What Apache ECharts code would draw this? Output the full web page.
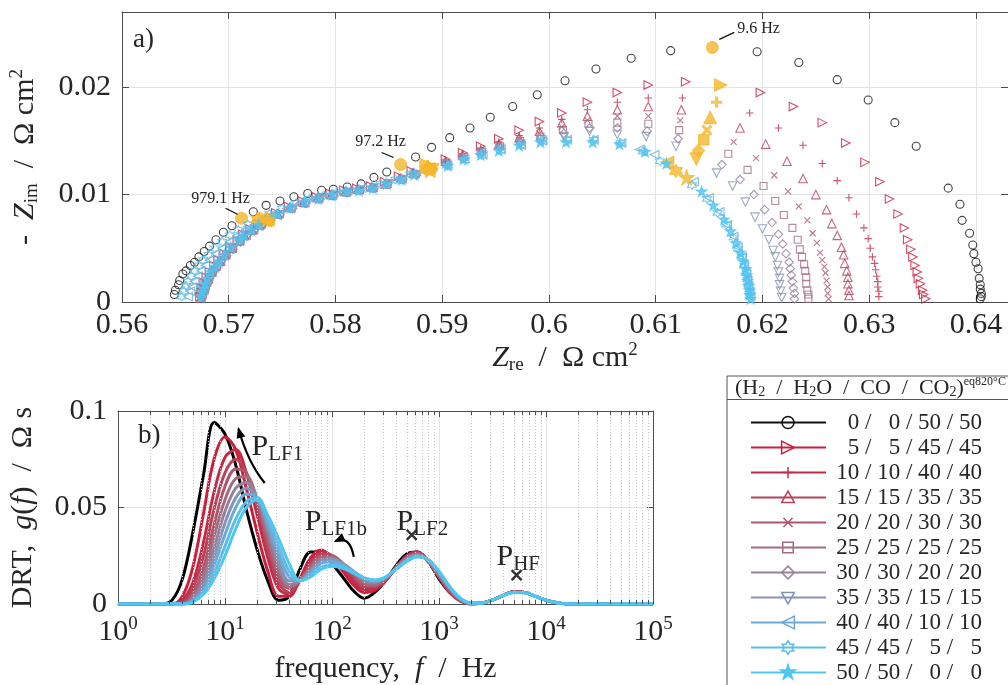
<!DOCTYPE html>
<html>
<head>
<meta charset="utf-8">
<script src="https://cdn.jsdelivr.net/npm/echarts/dist/echarts.min.js"></script>
<style>
  html, body { margin: 0; padding: 0; background: #ffffff; }
  #chart { width: 1008px; height: 685px; }
</style>
</head>
<body>
<div id="chart"></div>
<script>
// ---------- gas compositions (H2 / H2O / CO / CO2, %) ----------
const MIX_H2  = [0, 5, 10, 15, 20, 25, 30, 35, 40, 45, 50];
const MIX_H2O = [0, 5, 10, 15, 20, 25, 30, 35, 40, 45, 50];
const MIX_CO  = [50, 45, 40, 35, 30, 25, 20, 15, 10, 5, 0];
const MIX_CO2 = [50, 45, 40, 35, 30, 25, 20, 15, 10, 5, 0];

// ---------- impedance spectra: [Z_re, -Z_im] in Ohm cm2, 12 points per decade from ~14 kHz downwards ----------
const nyq00 = [[.5649,.0007],[.5650,.0011],[.5653,.0016],[.5654,.0020],[.5657,.0026],[.5660,.0029],[.5664,.0034],[.5668,.0037],[.5672,.0042],[.5677,.0047],[.5682,.0052],[.5688,.0058],[.5695,.0065],[.5703,.0071],[.5712,.0078],[.5723,.0084],[.5735,.0090],[.5748,.0094],[.5761,.0098],[.5774,.0101],[.5787,.0104],[.5798,.0105],[.5811,.0107],[.5824,.0110],[.5836,.0116],[.5848,.0121],[.5861,.0128],[.5875,.0135],[.5890,.0144],[.5907,.0153],[.5926,.0162],[.5945,.0172],[.5966,.0182],[.5989,.0193],[.6015,.0206],[.6044,.0217],[.6077,.0227],[.6114,.0234],[.6153,.0237],[.6195,.0233],[.6234,.0223],[.6270,.0207],[.6299,.0188],[.6324,.0167],[.6344,.0145],[.6374,.0106],[.6385,.0091],[.6387,.0076],[.6394,.0064],[.6397,.0053],[.6398,.0045],[.6400,.0037],[.6402,.0031],[.6403,.0022],[.6404,.0016],[.6404,.0012],[.6405,.0008],[.6405,.0005],[.6404,.0003]];
const nyq05 = [[.5673,.0005],[.5674,.0009],[.5675,.0013],[.5677,.0018],[.5679,.0023],[.5682,.0028],[.5686,.0034],[.5690,.0039],[.5695,.0045],[.5701,.0051],[.5708,.0057],[.5713,.0063],[.5720,.0068],[.5727,.0073],[.5734,.0078],[.5744,.0083],[.5756,.0089],[.5769,.0094],[.5782,.0098],[.5795,.0101],[.5808,.0104],[.5820,.0106],[.5833,.0108],[.5846,.0112],[.5859,.0117],[.5871,.0122],[.5885,.0128],[.5903,.0133],[.5919,.0139],[.5936,.0145],[.5953,.0152],[.5972,.0160],[.5991,.0168],[.6012,.0176],[.6036,.0186],[.6064,.0195],[.6093,.0202],[.6128,.0205],[.6161,.0202],[.6198,.0195],[.6229,.0182],[.6256,.0167],[.6278,.0148],[.6296,.0130],[.6310,.0112],[.6319,.0096],[.6327,.0082],[.6333,.0069],[.6336,.0058],[.6339,.0049],[.6341,.0042],[.6343,.0034],[.6345,.0028],[.6346,.0022],[.6348,.0017],[.6350,.0011],[.6351,.0007],[.6353,.0003]];
const nyq10 = [[.5674,.0005],[.5675,.0009],[.5676,.0013],[.5678,.0018],[.5680,.0023],[.5683,.0028],[.5687,.0033],[.5691,.0039],[.5696,.0045],[.5702,.0051],[.5709,.0057],[.5714,.0062],[.5721,.0067],[.5728,.0072],[.5735,.0077],[.5745,.0083],[.5757,.0088],[.5770,.0093],[.5783,.0097],[.5796,.0100],[.5809,.0103],[.5821,.0105],[.5834,.0107],[.5847,.0111],[.5860,.0116],[.5872,.0121],[.5886,.0127],[.5903,.0132],[.5919,.0138],[.5936,.0143],[.5953,.0149],[.5972,.0155],[.5991,.0162],[.6012,.0170],[.6036,.0179],[.6064,.0186],[.6093,.0190],[.6125,.0190],[.6157,.0186],[.6188,.0176],[.6215,.0162],[.6238,.0146],[.6256,.0129],[.6270,.0113],[.6281,.0097],[.6288,.0082],[.6295,.0069],[.6299,.0059],[.6301,.0050],[.6303,.0042],[.6305,.0036],[.6306,.0030],[.6307,.0024],[.6308,.0019],[.6308,.0014],[.6309,.0010],[.6309,.0005]];
const nyq15 = [[.5674,.0004],[.5675,.0008],[.5677,.0013],[.5678,.0017],[.5681,.0022],[.5684,.0028],[.5687,.0033],[.5692,.0038],[.5697,.0044],[.5703,.0050],[.5710,.0057],[.5715,.0062],[.5722,.0067],[.5729,.0072],[.5736,.0077],[.5746,.0082],[.5757,.0088],[.5770,.0093],[.5783,.0097],[.5796,.0100],[.5809,.0103],[.5821,.0105],[.5834,.0107],[.5847,.0110],[.5861,.0115],[.5873,.0120],[.5887,.0126],[.5903,.0131],[.5919,.0137],[.5936,.0141],[.5953,.0147],[.5972,.0153],[.5991,.0159],[.6012,.0167],[.6036,.0173],[.6064,.0179],[.6093,.0182],[.6124,.0179],[.6151,.0172],[.6179,.0162],[.6203,.0147],[.6223,.0131],[.6238,.0115],[.6250,.0100],[.6260,.0086],[.6265,.0073],[.6270,.0062],[.6274,.0051],[.6276,.0044],[.6277,.0036],[.6279,.0029],[.6280,.0023],[.6280,.0017],[.6281,.0011],[.6281,.0006]];
const nyq20 = [[.5675,.0004],[.5676,.0008],[.5677,.0012],[.5679,.0017],[.5681,.0022],[.5684,.0027],[.5688,.0032],[.5692,.0038],[.5697,.0044],[.5703,.0050],[.5710,.0056],[.5716,.0062],[.5723,.0067],[.5730,.0072],[.5737,.0076],[.5747,.0082],[.5758,.0087],[.5771,.0092],[.5784,.0096],[.5797,.0099],[.5810,.0102],[.5822,.0104],[.5835,.0106],[.5848,.0110],[.5862,.0115],[.5874,.0119],[.5888,.0125],[.5903,.0130],[.5919,.0136],[.5936,.0141],[.5953,.0146],[.5972,.0151],[.5991,.0157],[.6012,.0163],[.6036,.0169],[.6064,.0173],[.6093,.0173],[.6123,.0169],[.6148,.0160],[.6173,.0149],[.6194,.0134],[.6211,.0118],[.6224,.0103],[.6234,.0089],[.6242,.0076],[.6247,.0064],[.6251,.0055],[.6254,.0046],[.6256,.0039],[.6258,.0033],[.6259,.0027],[.6260,.0020],[.6261,.0014],[.6261,.0008],[.6262,.0003]];
const nyq25 = [[.5675,.0005],[.5676,.0009],[.5678,.0013],[.5680,.0018],[.5682,.0023],[.5685,.0028],[.5689,.0033],[.5693,.0038],[.5698,.0044],[.5704,.0050],[.5711,.0057],[.5717,.0062],[.5724,.0067],[.5731,.0072],[.5738,.0076],[.5748,.0082],[.5759,.0087],[.5772,.0092],[.5785,.0096],[.5798,.0099],[.5811,.0102],[.5823,.0104],[.5836,.0106],[.5849,.0110],[.5863,.0114],[.5875,.0119],[.5889,.0124],[.5904,.0129],[.5920,.0135],[.5937,.0140],[.5954,.0145],[.5973,.0150],[.5992,.0154],[.6013,.0160],[.6037,.0166],[.6064,.0167],[.6093,.0166],[.6122,.0160],[.6145,.0151],[.6168,.0138],[.6186,.0123],[.6201,.0108],[.6212,.0094],[.6220,.0081],[.6228,.0069],[.6233,.0058],[.6235,.0049],[.6237,.0042],[.6239,.0035],[.6240,.0029],[.6241,.0023],[.6241,.0017],[.6242,.0011],[.6243,.0007],[.6243,.0003]];
const nyq30 = [[.5675,.0004],[.5677,.0008],[.5678,.0012],[.5680,.0017],[.5682,.0022],[.5685,.0027],[.5689,.0032],[.5693,.0038],[.5698,.0043],[.5704,.0049],[.5711,.0056],[.5717,.0062],[.5724,.0067],[.5731,.0071],[.5738,.0076],[.5748,.0081],[.5760,.0087],[.5772,.0092],[.5785,.0096],[.5798,.0099],[.5811,.0102],[.5823,.0104],[.5836,.0106],[.5849,.0110],[.5863,.0114],[.5876,.0118],[.5890,.0123],[.5904,.0129],[.5920,.0134],[.5937,.0139],[.5954,.0144],[.5973,.0149],[.5992,.0152],[.6014,.0157],[.6038,.0162],[.6064,.0162],[.6092,.0159],[.6121,.0152],[.6140,.0141],[.6162,.0128],[.6179,.0114],[.6192,.0100],[.6202,.0086],[.6209,.0074],[.6215,.0063],[.6219,.0054],[.6222,.0045],[.6225,.0037],[.6226,.0031],[.6227,.0025],[.6228,.0019],[.6229,.0013],[.6230,.0008],[.6230,.0003]];
const nyq35 = [[.5676,.0005],[.5677,.0009],[.5679,.0013],[.5680,.0017],[.5683,.0022],[.5686,.0028],[.5690,.0033],[.5694,.0038],[.5699,.0044],[.5705,.0050],[.5712,.0057],[.5718,.0062],[.5725,.0067],[.5732,.0071],[.5739,.0076],[.5749,.0081],[.5760,.0087],[.5773,.0092],[.5786,.0096],[.5799,.0099],[.5811,.0102],[.5823,.0104],[.5836,.0106],[.5850,.0110],[.5863,.0114],[.5876,.0118],[.5891,.0123],[.5904,.0128],[.5920,.0134],[.5937,.0139],[.5954,.0143],[.5973,.0147],[.5993,.0151],[.6014,.0154],[.6038,.0159],[.6064,.0156],[.6091,.0154],[.6119,.0145],[.6138,.0133],[.6157,.0120],[.6172,.0108],[.6184,.0093],[.6193,.0079],[.6200,.0068],[.6206,.0058],[.6210,.0048],[.6212,.0042],[.6214,.0034],[.6215,.0028],[.6216,.0022],[.6216,.0016],[.6217,.0010],[.6218,.0004]];
const nyq40 = [[.5662,.0005],[.5664,.0010],[.5666,.0014],[.5668,.0019],[.5671,.0024],[.5674,.0029],[.5678,.0034],[.5682,.0039],[.5688,.0045],[.5694,.0050],[.5701,.0056],[.5708,.0062],[.5716,.0067],[.5724,.0072],[.5732,.0077],[.5742,.0082],[.5754,.0087],[.5767,.0092],[.5780,.0096],[.5793,.0099],[.5806,.0102],[.5818,.0104],[.5831,.0106],[.5845,.0110],[.5858,.0114],[.5872,.0119],[.5887,.0124],[.5905,.0127],[.5921,.0133],[.5938,.0137],[.5955,.0142],[.5974,.0146],[.5994,.0150],[.6017,.0151],[.6042,.0151],[.6068,.0148],[.6085,.0142],[.6099,.0137],[.6111,.0130],[.6136,.0112],[.6150,.0097],[.6160,.0084],[.6167,.0072],[.6173,.0061],[.6177,.0051],[.6181,.0042],[.6183,.0034],[.6185,.0027],[.6186,.0021],[.6187,.0015],[.6188,.0010],[.6189,.0005]];
const nyq45 = [[.5656,.0005],[.5658,.0010],[.5660,.0015],[.5662,.0019],[.5665,.0024],[.5668,.0029],[.5672,.0034],[.5676,.0039],[.5681,.0044],[.5687,.0050],[.5694,.0056],[.5701,.0062],[.5709,.0067],[.5718,.0072],[.5727,.0077],[.5738,.0082],[.5750,.0087],[.5763,.0092],[.5776,.0096],[.5789,.0099],[.5802,.0102],[.5815,.0104],[.5828,.0106],[.5842,.0110],[.5856,.0114],[.5870,.0119],[.5885,.0123],[.5905,.0127],[.5921,.0132],[.5937,.0137],[.5955,.0141],[.5974,.0146],[.5994,.0150],[.6017,.0151],[.6042,.0151],[.6067,.0148],[.6088,.0140],[.6104,.0131],[.6119,.0122],[.6134,.0109],[.6148,.0096],[.6158,.0083],[.6166,.0072],[.6173,.0060],[.6177,.0050],[.6181,.0042],[.6183,.0034],[.6185,.0027],[.6186,.0021],[.6187,.0015],[.6188,.0010],[.6188,.0005]];
const nyq50 = [[.5674,.0005],[.5675,.0009],[.5676,.0013],[.5678,.0017],[.5680,.0022],[.5683,.0028],[.5687,.0033],[.5691,.0038],[.5696,.0044],[.5702,.0051],[.5710,.0058],[.5714,.0062],[.5721,.0067],[.5728,.0072],[.5736,.0077],[.5746,.0082],[.5758,.0088],[.5771,.0093],[.5784,.0096],[.5797,.0100],[.5810,.0103],[.5822,.0104],[.5835,.0106],[.5848,.0110],[.5862,.0114],[.5874,.0119],[.5889,.0123],[.5905,.0127],[.5920,.0133],[.5936,.0137],[.5953,.0141],[.5972,.0146],[.5992,.0149],[.6016,.0149],[.6041,.0149],[.6066,.0147],[.6090,.0140],[.6110,.0129],[.6129,.0116],[.6143,.0103],[.6154,.0090],[.6164,.0077],[.6170,.0066],[.6175,.0055],[.6179,.0046],[.6182,.0038],[.6184,.0031],[.6185,.0025],[.6186,.0020],[.6187,.0015],[.6188,.0011],[.6188,.0007],[.6189,.0003]];

// highlighted frequencies (index into each spectrum)
const markIndex  = [14, 26, 38];
const markLabels = ['979.1 Hz', '97.2 Hz', '9.6 Hz'];

// ---------- distribution of relaxation times, g(f) in Ohm s ----------
const drtFreq = [1, 2, 2.5, 3.2, 4, 5, 6.3, 7.9, 10, 12.6, 15.8, 20, 25.1, 31.6, 39.8, 50.1, 63.1, 79.4, 100, 126, 158, 200, 251, 316, 398, 501, 631, 794, 1000, 1259, 1585, 1995, 2512, 3162, 3981, 5012, 6310, 7943, 10000, 12589, 15849, 100000];
const drt00 = [0,0,0,0.002,0.013,0.037,0.067,0.094,0.088,0.072,0.049,0.028,0.012,0.002,0.004,0.018,0.027,0.027,0.021,0.014,0.007,0.003,0.006,0.012,0.020,0.026,0.027,0.022,0.013,0.006,0.002,0,0.0005,0.002,0.0045,0.0065,0.006,0.004,0.002,0.0007,0,0];
const drt05 = [0,0,0,0,0.004,0.019,0.047,0.075,0.0865,0.080,0.060,0.037,0.017,0.004,0.004,0.013,0.024,0.028,0.024,0.017,0.010,0.006,0.007,0.012,0.019,0.025,0.027,0.022,0.014,0.006,0.0015,0,0.0005,0.002,0.0045,0.0063,0.006,0.004,0.002,0.0007,0,0];
const drt10 = [0,0,0,0,0.002,0.011,0.032,0.058,0.076,0.080,0.068,0.046,0.024,0.008,0.005,0.012,0.022,0.027,0.025,0.019,0.012,0.0075,0.008,0.012,0.019,0.025,0.027,0.022,0.014,0.0065,0.0017,0,0.0005,0.002,0.0045,0.0063,0.006,0.004,0.002,0.0007,0,0];
const drt15 = [0,0,0,0,0.001,0.008,0.025,0.049,0.068,0.075,0.068,0.050,0.029,0.011,0.006,0.012,0.021,0.026,0.025,0.020,0.014,0.009,0.009,0.0125,0.019,0.0245,0.0265,0.022,0.014,0.0065,0.0018,0.0001,0.0005,0.002,0.0045,0.0062,0.006,0.004,0.002,0.0007,0,0];
const drt20 = [0,0,0,0,0.0005,0.005,0.019,0.041,0.061,0.070,0.068,0.052,0.032,0.014,0.008,0.012,0.020,0.025,0.025,0.021,0.015,0.010,0.0095,0.013,0.019,0.024,0.026,0.022,0.0145,0.007,0.002,0.0002,0.0005,0.002,0.0045,0.0062,0.006,0.004,0.002,0.0007,0,0];
const drt25 = [0,0,0,0,0,0.004,0.015,0.035,0.054,0.065,0.066,0.054,0.035,0.017,0.009,0.012,0.019,0.024,0.024,0.021,0.016,0.011,0.010,0.013,0.019,0.024,0.026,0.022,0.015,0.0075,0.0022,0.0003,0.0005,0.002,0.0045,0.0062,0.006,0.004,0.002,0.0007,0,0];
const drt30 = [0,0,0,0,0,0.003,0.012,0.029,0.048,0.060,0.063,0.055,0.038,0.020,0.010,0.012,0.018,0.023,0.024,0.021,0.017,0.012,0.011,0.0135,0.0185,0.0235,0.0255,0.0225,0.0155,0.008,0.0024,0.0004,0.0005,0.002,0.0045,0.0061,0.006,0.004,0.002,0.0007,0,0];
const drt35 = [0,0,0,0,0,0.002,0.009,0.024,0.042,0.055,0.060,0.055,0.040,0.023,0.012,0.012,0.017,0.022,0.023,0.021,0.017,0.013,0.0115,0.0135,0.0185,0.023,0.025,0.0225,0.016,0.0083,0.0026,0.0004,0.0005,0.002,0.0045,0.0061,0.006,0.004,0.002,0.0007,0,0];
const drt40 = [0,0,0,0,0,0.0015,0.007,0.020,0.036,0.050,0.057,0.055,0.042,0.026,0.014,0.012,0.016,0.021,0.022,0.020,0.017,0.0135,0.012,0.0138,0.0183,0.0228,0.0248,0.0228,0.0163,0.0086,0.0028,0.0005,0.0005,0.002,0.0045,0.006,0.0059,0.004,0.002,0.0006,0,0];
const drt45 = [0,0,0,0,0,0.001,0.006,0.016,0.030,0.044,0.053,0.055,0.045,0.030,0.017,0.012,0.015,0.019,0.0205,0.0195,0.0165,0.0135,0.0122,0.014,0.018,0.0225,0.0245,0.023,0.0167,0.0088,0.0029,0.0005,0.0005,0.002,0.0045,0.006,0.0058,0.004,0.002,0.0006,0,0];
const drt50 = [0,0,0,0,0,0.001,0.005,0.013,0.025,0.039,0.050,0.054,0.046,0.034,0.021,0.012,0.014,0.018,0.0195,0.0185,0.016,0.0135,0.0125,0.014,0.018,0.022,0.0245,0.023,0.017,0.009,0.003,0.0005,0.0005,0.002,0.0045,0.006,0.0058,0.004,0.002,0.0006,0,0];

// peak markers (f in Hz, g in Ohm s)
const peakMarks = [[556, 0.0358], [5310, 0.0150]];

const NYQ = [nyq00, nyq05, nyq10, nyq15, nyq20, nyq25, nyq30, nyq35, nyq40, nyq45, nyq50];
const DRT = [drt00, drt05, drt10, drt15, drt20, drt25, drt30, drt35, drt40, drt45, drt50];

// ---------- styling ----------
const FONT = '"Liberation Serif", "Times New Roman", serif';
const C_TEXT = '#262626';
const C_AXIS = '#4d4d4d';
const C_GRID = '#e4e4e4';
const GOLD = '#f5b72c';
const COLORS = ['#111111', '#cc1f3c', '#c22c47', '#b9415a', '#b0566c', '#a56b7e', '#96809b', '#8494b7', '#6ea9d6', '#5bbde9', '#4ec6f2'];

// marker outlines in a 10 x 10 box: closed polygons or open strokes
const MARKERS = [
  { circle: true, size: 8 },
  { poly: [[0,0],[10,5],[0,10]], size: 8.5 },
  { segs: [[[5,0],[5,10]], [[0,5],[10,5]]], size: 7.5 },
  { poly: [[5,0],[10,9],[0,9]], size: 8.5 },
  { segs: [[[0,0],[10,10]], [[10,0],[0,10]]], size: 6 },
  { poly: [[0,0],[10,0],[10,10],[0,10]], size: 7 },
  { poly: [[5,0],[10,5],[5,10],[0,5]], size: 8.5 },
  { poly: [[0,1],[10,1],[5,10]], size: 8.5 },
  { poly: [[10,0],[0,5],[10,10]], size: 8.5 },
  { poly: [[5,0],[6.44,2.5],[9.33,2.5],[7.89,5],[9.33,7.5],[6.44,7.5],[5,10],[3.56,7.5],[0.67,7.5],[2.11,5],[0.67,2.5],[3.56,2.5]], size: 9 },
  { poly: [[5,0],[6.12,3.45],[9.76,3.45],[6.82,5.59],[7.94,9.05],[5,6.91],[2.06,9.05],[3.18,5.59],[0.24,3.45],[3.88,3.45]], size: 10.5, fill: true }
];
function symbolOf(m) {
  if (m.circle) return 'circle';
  if (m.poly) return 'path://M' + m.poly.map(p => p.join(',')).join('L') + 'Z';
  return 'path://' + m.segs.map(s => 'M' + s[0].join(',') + 'L' + s[1].join(',')).join('');
}

const SUB = { fontSize: 19, fontFamily: FONT, color: C_TEXT, padding: [15, 0, 0, 0] };
const SUP = { fontSize: 19, fontFamily: FONT, color: C_TEXT, padding: [0, 0, 15, 0] };
const ITAL = { fontSize: 30, fontFamily: FONT, fontStyle: 'italic', color: C_TEXT };

function decimalLabel(v) {
  if (Math.abs(v * 100 - Math.round(v * 100)) > 1e-6) return '';
  return String(+v.toFixed(2));
}

// ---------- series ----------
const nyqSeries = NYQ.map((pts, i) => {
  const m = MARKERS[i];
  return {
    type: 'scatter', xAxisIndex: 0, yAxisIndex: 0,
    symbol: symbolOf(m), symbolSize: m.size,
    itemStyle: { color: m.fill ? COLORS[i] : 'rgba(0,0,0,0)', borderColor: COLORS[i], borderWidth: 1.1 },
    data: pts.map((p, k) => markIndex.indexOf(k) >= 0
      ? { value: p, symbolSize: m.size * 1.5, itemStyle: { color: GOLD, borderColor: GOLD, borderWidth: m.segs ? 3 : 1 } }
      : p),
    z: 3
  };
});

const drtSeries = DRT.map((vals, i) => ({
  type: 'line', xAxisIndex: 2, yAxisIndex: 2,
  showSymbol: false, smooth: 0.35,
  lineStyle: { color: i === 0 ? '#000000' : COLORS[i], width: 3 },
  itemStyle: { color: COLORS[i] },
  data: drtFreq.map((f, j) => [f, vals[j]]),
  z: 3
}));

// log-axis minor grid and minor ticks (2..9 x 10^n)
const minorF = [];
for (let d = 0; d < 5; d++) for (let m = 2; m <= 9; m++) minorF.push(m * Math.pow(10, d));

const helperGrid = {
  type: 'line', xAxisIndex: 2, yAxisIndex: 2, data: [[1, 0]], showSymbol: false,
  lineStyle: { opacity: 0 }, silent: true, z: 1,
  markLine: {
    silent: true, symbol: 'none', animation: false, label: { show: false },
    lineStyle: { type: [1, 2], color: '#c8c8c8', width: 1 },
    data: minorF.map(f => ({ xAxis: f }))
  }
};
const helperTicks = {
  type: 'line', xAxisIndex: 2, yAxisIndex: 2, data: [[1, 0]], showSymbol: false,
  lineStyle: { opacity: 0 }, silent: true, z: 4,
  markLine: {
    silent: true, symbol: 'none', animation: false, label: { show: false },
    lineStyle: { type: 'solid', color: C_AXIS, width: 1 },
    data: minorF.map(f => [{ coord: [f, 0] }, { coord: [f, 0.0022] }])
      .concat(minorF.map(f => [{ coord: [f, 0.1] }, { coord: [f, 0.0978] }]))
  }
};

const peakSeries = {
  type: 'scatter', xAxisIndex: 2, yAxisIndex: 2,
  symbol: 'path://M0,0L10,10M10,0L0,10', symbolSize: 10,
  itemStyle: { color: 'rgba(0,0,0,0)', borderColor: '#000', borderWidth: 2.4 },
  data: peakMarks, z: 6
};

// ---------- axes ----------
const boxAxisCommon = {
  axisLine: { show: true, onZero: false, lineStyle: { color: C_AXIS, width: 1 } },
  axisLabel: { show: false }, splitLine: { show: false }
};
const TICK_FONT = { fontFamily: FONT, fontSize: 30, color: C_TEXT };

const option = {
  animation: false,
  backgroundColor: '#ffffff',
  grid: [
    { left: 118.5, top: 12, width: 893, height: 290 },
    { left: 118, top: 411, width: 535, height: 193 }
  ],
  xAxis: [
    {
      gridIndex: 0, type: 'value', min: 0.56, max: 0.643, interval: 0.01, position: 'bottom',
      axisLine: { show: true, onZero: false, lineStyle: { color: C_AXIS, width: 1 } },
      axisTick: { show: true, inside: true, length: 7, lineStyle: { color: C_AXIS } },
      axisLabel: Object.assign({ margin: 8, formatter: decimalLabel, showMaxLabel: false }, TICK_FONT),
      splitLine: { show: true, lineStyle: { color: C_GRID, width: 1 } },
      name: '{i|Z}{s|re}  /  Ω cm{p|2}', nameLocation: 'middle', nameGap: 29,
      nameTextStyle: { fontFamily: FONT, fontSize: 30, color: C_TEXT, rich: { i: ITAL, s: SUB, p: SUP } }
    },
    Object.assign({ gridIndex: 0, type: 'value', min: 0.56, max: 0.643, interval: 0.01, position: 'top',
      axisTick: { show: true, inside: true, length: 7, lineStyle: { color: C_AXIS } } }, boxAxisCommon),
    {
      gridIndex: 1, type: 'log', logBase: 10, min: 1, max: 100000, splitNumber: 5, position: 'bottom',
      axisLine: { show: true, onZero: false, lineStyle: { color: C_AXIS, width: 1 } },
      axisTick: { show: true, inside: true, length: 6, lineStyle: { color: C_AXIS } },
      axisLabel: Object.assign({ margin: 11,
        formatter: v => '10{p|' + Math.round(Math.log10(v)) + '}', rich: { p: SUP } }, TICK_FONT),
      splitLine: { show: true, lineStyle: { color: C_GRID, width: 1 } },
      name: 'frequency,  {i|f}  /  Hz', nameLocation: 'middle', nameGap: 50,
      nameTextStyle: { fontFamily: FONT, fontSize: 30, color: C_TEXT, rich: { i: ITAL } }
    },
    Object.assign({ gridIndex: 1, type: 'log', logBase: 10, min: 1, max: 100000, splitNumber: 5, position: 'top',
      axisTick: { show: true, inside: true, length: 6, lineStyle: { color: C_AXIS } } }, boxAxisCommon)
  ],
  yAxis: [
    {
      gridIndex: 0, type: 'value', min: 0, max: 0.027, interval: 0.01, position: 'left',
      axisLine: { show: true, onZero: false, lineStyle: { color: C_AXIS, width: 1 } },
      axisTick: { show: true, inside: true, length: 7, lineStyle: { color: C_AXIS } },
      axisLabel: Object.assign({ margin: 11, formatter: decimalLabel, showMaxLabel: false }, TICK_FONT),
      splitLine: { show: true, lineStyle: { color: C_GRID, width: 1 } },
      name: '-  {i|Z}{s|im}  /  Ω cm{p|2}', nameLocation: 'middle', nameGap: 80, nameRotate: 90,
      nameTextStyle: { fontFamily: FONT, fontSize: 30, color: C_TEXT, rich: { i: ITAL, s: SUB, p: SUP } }
    },
    Object.assign({ gridIndex: 0, type: 'value', min: 0, max: 0.027, interval: 0.01, position: 'right',
      axisTick: { show: true, inside: true, length: 7, lineStyle: { color: C_AXIS } } }, boxAxisCommon),
    {
      gridIndex: 1, type: 'value', min: 0, max: 0.1, interval: 0.05, position: 'left',
      axisLine: { show: true, onZero: false, lineStyle: { color: C_AXIS, width: 1 } },
      axisTick: { show: true, inside: true, length: 6, lineStyle: { color: C_AXIS } },
      axisLabel: Object.assign({ margin: 11, formatter: v => v === 0 ? '0' : String(+v.toFixed(2)) }, TICK_FONT),
      splitLine: { show: true, lineStyle: { color: C_GRID, width: 1 } },
      name: 'DRT,  {i|g}({i|f})  /  Ω s', nameLocation: 'middle', nameGap: 80, nameRotate: 90,
      nameTextStyle: { fontFamily: FONT, fontSize: 30, color: C_TEXT, rich: { i: ITAL } }
    },
    Object.assign({ gridIndex: 1, type: 'value', min: 0, max: 0.1, interval: 0.05, position: 'right',
      axisTick: { show: true, inside: true, length: 6, lineStyle: { color: C_AXIS } } }, boxAxisCommon)
  ],
  series: [helperGrid].concat(drtSeries, [helperTicks, peakSeries], nyqSeries)
};

const chart = echarts.init(document.getElementById('chart'), null, { renderer: 'canvas', width: 1008, height: 685 });
chart.setOption(option);

// ---------- annotations ----------
const px0 = p => chart.convertToPixel({ xAxisIndex: 0, yAxisIndex: 0 }, p);
const px1 = p => chart.convertToPixel({ xAxisIndex: 2, yAxisIndex: 2 }, p);
const g = [];

function txt(x, y, text, size, align, extra) {
  return {
    type: 'text', x: x, y: y, z: 100, silent: true,
    style: Object.assign({ text: text, fill: C_TEXT, fontFamily: FONT, fontSize: size,
      textAlign: align || 'left', textVerticalAlign: 'middle', verticalAlign: 'middle', align: align || 'left' }, extra || {})
  };
}
function seg(a, b, w, col) {
  return { type: 'line', z: 100, silent: true, shape: { x1: a[0], y1: a[1], x2: b[0], y2: b[1] },
    style: { stroke: col || '#111', lineWidth: w || 1.2 } };
}

// panel tags
g.push(txt(133, 40, 'a)', 27));
g.push(txt(138, 436, 'b)', 27));

// frequency labels on the 0/0/50/50 spectrum
const freqLabelLayout = [
  { tx: -21, ty: -19, align: 'center', l0: [-16, -10], l1: [-4, -4] },
  { tx: -20, ty: -23, align: 'center', l0: [-19, -12], l1: [-7, -7] },
  { tx: 25, ty: -19, align: 'left', l0: [7, -8], l1: [22, -15] }
];
markIndex.forEach((k, j) => {
  const p = px0(nyq00[k]);
  const L = freqLabelLayout[j];
  g.push(txt(p[0] + L.tx, p[1] + L.ty, markLabels[j], 16, L.align));
  g.push(seg([p[0] + L.l0[0], p[1] + L.l0[1]], [p[0] + L.l1[0], p[1] + L.l1[1]], 1.3));
});

// DRT peak names
const richP = { s: { fontSize: 21, fontFamily: FONT, fill: C_TEXT, color: C_TEXT, padding: [15, 0, 0, 0] } };
function peakName(anchor, sub) {
  const p = px1(anchor);
  return txt(p[0], p[1], 'P{s|' + sub + '}', 30, 'left', { rich: richP });
}
g.push(peakName([17.7, 0.0815], 'LF1'));
g.push(peakName([55.6, 0.0425], 'LF1b'));
g.push(peakName([401, 0.0425], 'LF2'));
g.push(peakName([3445, 0.0245], 'HF'));

// curved arrows showing the peak shift
function arrow(a, c, b) {
  const A = px1(a), C = px1(c), B = px1(b);
  g.push({ type: 'bezierCurve', z: 100, silent: true,
    shape: { x1: A[0], y1: A[1], x2: B[0], y2: B[1], cpx1: C[0], cpy1: C[1] },
    style: { stroke: '#000', lineWidth: 2.2, fill: null } });
  const dx = B[0] - C[0], dy = B[1] - C[1], len = Math.hypot(dx, dy);
  const ux = dx / len, uy = dy / len, hl = 9, hw = 4.5;
  const bx = B[0] - ux * hl, by = B[1] - uy * hl;
  g.push({ type: 'polygon', z: 100, silent: true,
    shape: { points: [[B[0] + ux * 2, B[1] + uy * 2], [bx - uy * hw, by + ux * hw], [bx + uy * hw, by - ux * hw]] },
    style: { fill: '#000' } });
}
arrow([23.5, 0.0627], [16.3, 0.0736], [13.4, 0.0907]);
arrow([160, 0.0244], [146, 0.0358], [108, 0.0326]);

// legend box
const LX = 727, LY = 376;
g.push({ type: 'rect', z: 90, silent: true, shape: { x: LX, y: LY, width: 400, height: 400 },
  style: { fill: '#ffffff', stroke: '#555555', lineWidth: 1 } });
g.push({ type: 'line', z: 91, silent: true, shape: { x1: LX, y1: 399.5, x2: 1010, y2: 399.5 }, style: { stroke: '#555555', lineWidth: 1 } });
g.push(txt(735, 388, '(H{s|2}  /  H{s|2}O  /  CO  /  CO{s|2}){p|eq820°C}', 22, 'left', {
  rich: {
    s: { fontSize: 14, fontFamily: FONT, fill: C_TEXT, padding: [9, 0, 0, 0] },
    p: { fontSize: 12, fontFamily: FONT, fill: C_TEXT, padding: [0, 0, 13, 0] }
  }
}));
const pad = v => (v < 10 ? '\u2007' : '') + v;
MIX_H2.forEach((h, i) => {
  const y = 422.5 + i * 25;
  const col = COLORS[i];
  g.push(seg([751, y], [826, y], 2, col));
  const m = MARKERS[i];
  const s = m.size * 1.5;
  const cx = 788;
  const tr = p => [cx + (p[0] - 5) * s / 10, y + (p[1] - 5) * s / 10];
  if (m.circle) {
    g.push({ type: 'circle', z: 96, silent: true, shape: { cx: cx, cy: y, r: s / 2 }, style: { fill: null, stroke: col, lineWidth: 1.5 } });
  } else if (m.poly) {
    g.push({ type: 'polygon', z: 96, silent: true, shape: { points: m.poly.map(tr) },
      style: { fill: m.fill ? col : null, stroke: col, lineWidth: 1.5 } });
  } else {
    m.segs.forEach(sg => g.push(seg(tr(sg[0]), tr(sg[1]), 1.5, col)));
  }
  const label = pad(h) + ' / ' + pad(MIX_H2O[i]) + ' / ' + pad(MIX_CO[i]) + ' / ' + pad(MIX_CO2[i]);
  g.push(txt(982, y, label, 23, 'right'));
});

chart.setOption({ graphic: { elements: g } });
</script>
</body>
</html>
